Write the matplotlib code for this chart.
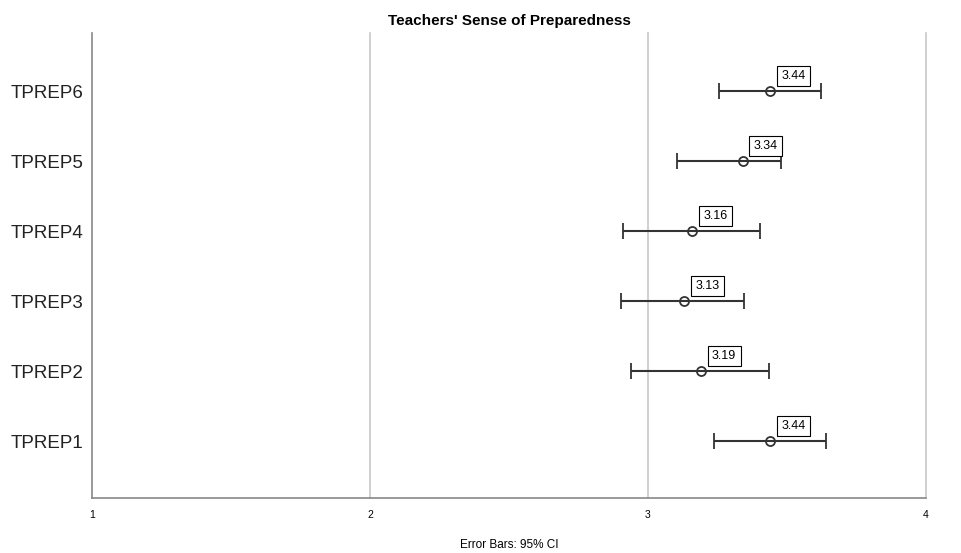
import matplotlib
matplotlib.use("Agg")
import matplotlib.pyplot as plt

categories = ["TPREP1", "TPREP2", "TPREP3", "TPREP4", "TPREP5", "TPREP6"]
means = [3.44, 3.19, 3.13, 3.16, 3.34, 3.44]
ci_low = [3.237, 2.939, 2.903, 2.910, 3.104, 3.255]
ci_high = [3.640, 3.435, 3.345, 3.403, 3.478, 3.622]
mean_labels = ["3.44", "3.19", "3.13", "3.16", "3.34", "3.44"]
xticks = [1, 2, 3, 4]

plt.rcParams['font.family'] = ['Liberation Sans', 'DejaVu Sans']

fig = plt.figure(figsize=(9.62, 5.53), dpi=100)
ax = fig.add_axes([92/962, 1-498/553, 834/962, (498-33)/553])

ypos = list(range(1, len(categories)+1))
xerr = [[m - l for m, l in zip(means, ci_low)], [h - m for m, h in zip(means, ci_high)]]
ax.errorbar(means, ypos, xerr=xerr, fmt='o', mfc='none', mec='#333333', ms=6.5, mew=1.3,
            ecolor='#333333', elinewidth=1.5, capsize=5.8, capthick=1.5, zorder=3)

for m, y, lab in zip(means, ypos, mean_labels):
    ax.annotate(lab, (m, y), xytext=(8, 6.5), textcoords='offset points', ha='left', va='bottom',
                fontsize=9, color='black',
                bbox=dict(boxstyle='square,pad=0.35', fc='white', ec='black', lw=0.8), zorder=4)

ax.set_xlim(1, 4)
ax.set_ylim(0.186, 6.83)
ax.set_xticks(xticks)
ax.set_xticklabels([str(t) for t in xticks], fontsize=7.5)
ax.set_yticks(ypos)
ax.set_yticklabels(categories, fontsize=13.5, color='#222222')
ax.tick_params(axis='both', length=0)
ax.tick_params(axis='x', pad=9)
ax.tick_params(axis='y', pad=6)
for t in xticks[1:]:
    ax.axvline(t, color='#c8c8c8', lw=1.2, zorder=1, clip_on=False)
for s in ['top', 'right']:
    ax.spines[s].set_visible(False)
ax.spines['left'].set_color('#888888')
ax.spines['bottom'].set_color('#888888')
ax.spines['left'].set_linewidth(1.2)
ax.spines['bottom'].set_linewidth(1.2)

ax.set_title("Teachers' Sense of Preparedness", fontsize=11, fontweight='bold', pad=6)
ax.set_xlabel("Error Bars: 95% CI", fontsize=8.5, labelpad=13)

fig.savefig("out.png", dpi=100)
